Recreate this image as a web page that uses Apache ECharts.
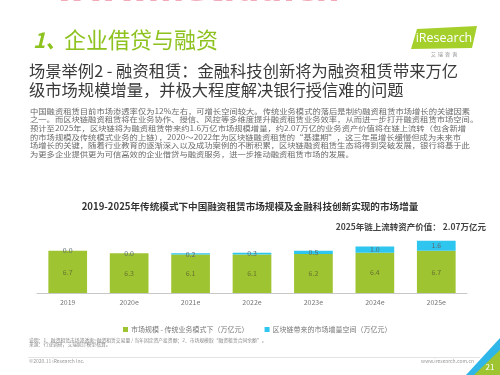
<!DOCTYPE html>
<html>
<head>
<meta charset="utf-8">
<script src="https://cdn.jsdelivr.net/npm/echarts@6/dist/echarts.min.js"></script>
<style>
  html, body { margin: 0; padding: 0; background: #fff; }
  #main { width: 500px; height: 375px; }
</style>
</head>
<body>
<div id="main"></div>
<script>
  // 数据
  var years = ['2019', '2020e', '2021e', '2022e', '2023e', '2024e', '2025e'];
  var traditional = [6.7, 6.3, 6.1, 6.1, 6.2, 6.4, 6.7];
  var blockchain = [0.0, 0.0, 0.2, 0.3, 0.5, 1.0, 1.6];
  var legendNames = ['市场规模 - 传统业务模式下（万亿元）', '区块链带来的市场增量空间（万亿元）'];

  var paragraph = [
    '中国融资租赁目前市场渗透率仅为12%左右，可增长空间较大。传统业务模式的落后是制约融资租赁市场增长的关键因素',
    '之一。而区块链融资租赁将在业务协作、授信、风控等多维度提升融资租赁业务效率，从而进一步打开融资租赁市场空间。',
    '预计至2025年，区块链将为融资租赁带来约1.6万亿市场规模增量，约2.07万亿的业务资产价值将在链上流转（包含新增',
    '的市场规模及传统模式业务的上链），2020～2022年为区块链融资租赁的“基建期”，这三年虽增长缓慢但成为未来市',
    '场增长的关键，随着行业教育的逐渐深入以及成功案例的不断积累，区块链融资租赁生态将得到突破发展，银行将基于此',
    '为更多企业提供更为可信高效的企业借贷与融资服务，进一步推动融资租赁市场的发展。'
  ];

  var font = '"Noto Sans CJK SC", "Noto Sans", sans-serif';
  var green = '#9fc431';
  var blue = '#2ec5ef';

  var myChart = echarts.init(document.getElementById('main'));

  // 正文逐行，横向拉伸
  var paraLines = paragraph.map(function (line, i) {
    return {
      type: 'text', x: 30, y: 111 + i * 8.66, scaleX: 1.17,
      style: { text: line, fontSize: 7.1, fill: '#6a6a6a', verticalAlign: 'middle', fontFamily: font }
    };
  });

  var option = {
    backgroundColor: '#fff',
    textStyle: { fontFamily: font },
    animation: false,
    title: {
      text: '2019-2025年传统模式下中国融资租赁市场规模及金融科技创新实现的市场增量',
      left: 'center',
      top: 197,
      textStyle: { fontSize: 9.6, fontWeight: 'bold', color: '#333', fontFamily: font }
    },
    legend: {
      left: 118,
      top: 321,
      itemWidth: 5,
      itemHeight: 5,
      itemGap: 16,
      icon: 'rect',
      data: legendNames,
      textStyle: { fontSize: 7, color: '#777', fontFamily: font, padding: [0, 0, 0, -2] }
    },
    grid: { left: 37, right: 33, top: 230, bottom: 82 },
    xAxis: {
      type: 'category',
      data: years,
      axisLine: { lineStyle: { color: '#c8c8c8', width: 1 } },
      axisTick: { show: false },
      axisLabel: { fontSize: 7, color: '#777', margin: 6 }
    },
    yAxis: {
      type: 'value',
      min: 0,
      max: 10,
      show: false
    },
    series: [
      {
        name: legendNames[0],
        type: 'bar',
        stack: 'total',
        barWidth: '63%',
        itemStyle: { color: green },
        label: { show: true, position: 'inside', fontSize: 7, color: '#67742f', formatter: function (p) { return p.value.toFixed(1); } },
        data: traditional
      },
      {
        name: legendNames[1],
        type: 'bar',
        stack: 'total',
        itemStyle: { color: blue },
        label: { show: true, position: 'inside', fontSize: 7, color: '#5a6a70', formatter: function (p) { return p.value.toFixed(1); } },
        data: blockchain
      }
    ],
    graphic: [
      // 水印
      { type: 'text', x: 55, y: 9, style: { text: 'www.netida.cn', fontSize: 34, fontWeight: 'bold', fill: '#f3a9b7', verticalAlign: 'bottom', fontFamily: '"DejaVu Sans", sans-serif' } },
      // 标题
      { type: 'text', left: 33, top: 30, style: { text: '1、', fontSize: 21, fontStyle: 'italic', fontWeight: 'bold', fill: '#8dc21f', fontFamily: font } },
      { type: 'text', left: 64, top: 29, style: { text: '企业借贷与融资', fontSize: 22, fill: '#8dc21f', fontFamily: font } },
      // logo
      { type: 'polygon', shape: { points: [[417, 29], [477, 26], [472, 48], [411, 49]] }, style: { fill: '#a5cf2b' } },
      { type: 'text', x: 444, y: 38, style: { text: 'iResearch', fontSize: 12.5, fill: '#fff', align: 'center', verticalAlign: 'middle', fontFamily: '"Open Sans", sans-serif' } },
      { type: 'text', x: 444, y: 54, style: { text: '艾  瑞  咨  询', fontSize: 5, fill: '#888', align: 'center', verticalAlign: 'middle', fontFamily: font } },
      // 副标题
      { type: 'text', left: 29, top: 61, style: { text: '场景举例2 - 融资租赁：金融科技创新将为融资租赁带来万亿\n级市场规模增量，并极大程度解决银行授信难的问题', fontSize: 16.3, lineHeight: 19, fill: '#3a3a3a', fontFamily: font } }
    ].concat(paraLines).concat([
      // 注释
      { type: 'text', right: 14, top: 223, style: { text: '2025年链上流转资产价值： 2.07万亿元', fontSize: 8.5, fontWeight: 'bold', fill: '#444', fontFamily: font } },
      { type: 'text', left: 29, top: 337.5, style: { text: '说明：1、融资租赁市场渗透率=融资租赁交易量 / 当年固定资产投资额；2、市场规模取“融资租赁合同余额”。\n来源：行业调研，艾瑞统计模型核算。', fontSize: 4.8, lineHeight: 4.6, fill: '#888', fontFamily: font } },
      { type: 'line', shape: { x1: 28, y1: 357.5, x2: 480, y2: 357.5 }, style: { stroke: '#e4e4e4', lineWidth: 1 } },
      { type: 'text', left: 29, top: 358.5, style: { text: '©2020.11 iResearch Inc.', fontSize: 5, fill: '#999', fontFamily: font } },
      { type: 'text', right: 26, top: 358.5, style: { text: 'www.iresearch.com.cn', fontSize: 5, fill: '#999', fontFamily: font } },
      // 页码角标
      { type: 'polygon', shape: { points: [[500, 338], [500, 375], [466, 375]] }, style: { fill: '#2eb6e8' } },
      { type: 'polygon', shape: { points: [[500, 350], [500, 375], [474, 375]] }, style: { fill: '#9fc431' } },
      { type: 'text', x: 490, y: 367, style: { text: '21', fontSize: 8, fill: '#fff', align: 'center', verticalAlign: 'middle', fontFamily: font } }
    ])
  };

  myChart.setOption(option);
</script>
</body>
</html>
